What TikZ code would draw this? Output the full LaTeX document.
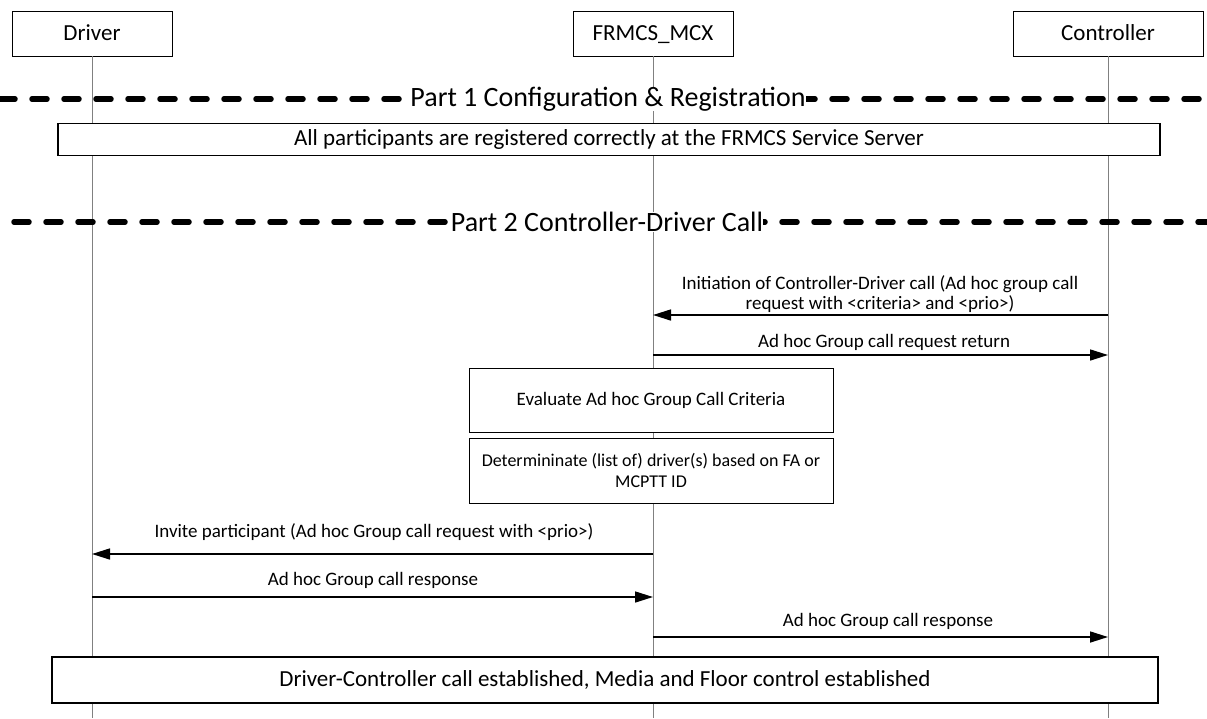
\documentclass[tikz,border=0pt]{standalone}
\usepackage{fontspec}
\setmainfont{Carlito}
\usetikzlibrary{positioning,arrows.meta}
\definecolor{lifegray}{RGB}{128,128,128}

\tikzset{
  actorbox/.style={draw=black,fill=white,line width=0.9pt,minimum width=160pt,
    minimum height=45pt,inner sep=0pt,text height=18pt,text depth=5pt,
    font=\fontsize{23}{26}\selectfont},
  lifeline/.style={draw=lifegray,line width=1pt},
  phase/.style={line width=5.5pt,line cap=round,dash pattern=on 15pt off 17pt},
  phaselabel/.style={fill=white,inner sep=0pt,font=\fontsize{28}{30}\selectfont},
  notebox/.style={draw=black,fill=white,line width=1.8pt,inner sep=0pt,
    font=\fontsize{23}{26}\selectfont},
  stepbox/.style={draw=black,fill=white,line width=0.9pt,minimum width=364pt,
    minimum height=64pt,inner sep=0pt,align=center},
  msg/.style={line width=1.6pt,-{Triangle[length=18pt,width=11pt]}},
  msglabel/.style={inner sep=0pt,align=center,font=\fontsize{19}{20}\selectfont}
}

\begin{document}
\begin{tikzpicture}[x=1pt,y=-1pt]
  \useasboundingbox (0,0) rectangle (1207,718);

  % participants
  \node[actorbox] (driver) at (92,33.5) {Driver};
  \node[actorbox] (mcx) at (653,33.5) {FRMCS\_MCX};
  \node[actorbox,minimum width=190pt] (ctrl) at (1108,33.5) {Controller};

  \coordinate (driverend) at (92,718);
  \coordinate (mcxend) at (653,718);
  \coordinate (ctrlend) at (1108,718);
  \draw[lifeline] (driver.south) -- (driverend);
  \draw[lifeline] (mcx.south) -- (mcxend);
  \draw[lifeline] (ctrl.south) -- (ctrlend);

  % part 1
  \coordinate (pawest) at (0,99);
  \coordinate (paeast) at (1207,99);
  \draw[phase] (pawest) -- (paeast);
  \node[phaselabel] (parta) at (608,99) {Part 1 Configuration \& Registration};

  \node[notebox,minimum width=1102pt,minimum height=32pt] (reg) at (609,139.5)
    {All participants are registered correctly at the FRMCS Service Server};

  % part 2
  \coordinate (pbwest) at (14,222);
  \coordinate (pbeast) at (1207,222);
  \draw[phase] (pbwest) -- (pbeast);
  \node[phaselabel] (partb) at (607,222) {Part 2 Controller-Driver Call};

  % messages
  \coordinate (ma) at (0,315);
  \coordinate (mb) at (0,355);
  \draw[msg] (ctrl |- ma) -- (mcx |- ma);
  \node[msglabel] (malbl) at (880,294)
    {Initiation of Controller-Driver call (Ad hoc group call\\request with <criteria> and <prio>)};
  \draw[msg] (mcx |- mb) -- (ctrl |- mb);
  \node[msglabel] (mblbl) at (884,342) {Ad hoc Group call request return};

  \node[stepbox,font=\fontsize{19}{21}\selectfont] (eval) at (651,400)
    {Evaluate Ad hoc Group Call Criteria};
  \node[stepbox,minimum height=65pt,font=\fontsize{18}{21}\selectfont] (determ) at (651,470.5)
    {Determininate (list of) driver(s) based on FA or\\MCPTT ID};

  \coordinate (mc) at (0,554);
  \coordinate (md) at (0,597);
  \coordinate (me) at (0,637);
  \draw[msg] (mcx |- mc) -- (driver |- mc);
  \node[msglabel] (mclbl) at (374,532)
    {Invite participant (Ad hoc Group call request with <prio>)};
  \draw[msg] (driver |- md) -- (mcx |- md);
  \node[msglabel] (mdlbl) at (373,580) {Ad hoc Group call response};
  \draw[msg] (mcx |- me) -- (ctrl |- me);
  \node[msglabel] (melbl) at (888,621) {Ad hoc Group call response};

  \node[notebox,minimum width=1106pt,minimum height=46pt] (estab) at (605,680)
    {Driver-Controller call established, Media and Floor control established};
\end{tikzpicture}
\end{document}
